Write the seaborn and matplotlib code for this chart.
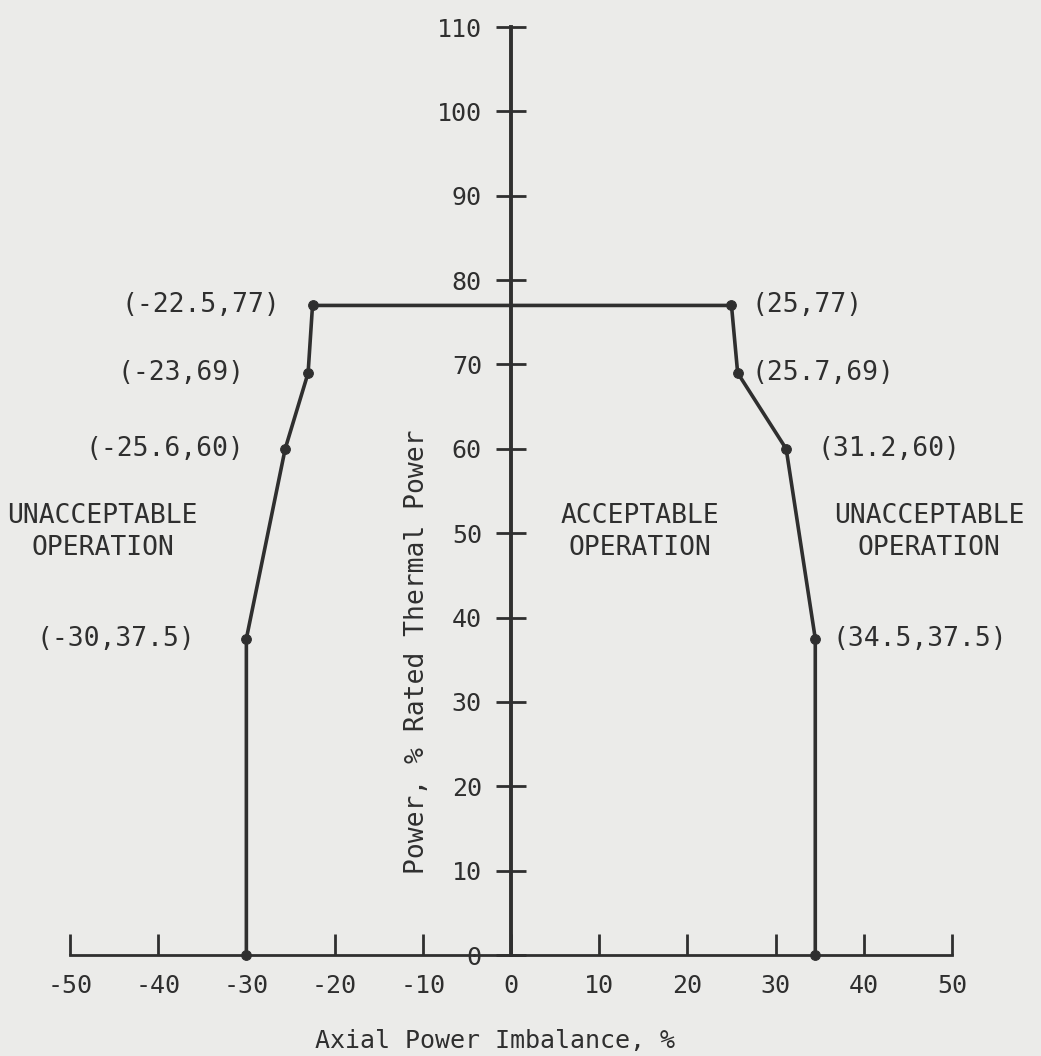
import matplotlib
matplotlib.use('Agg')
import matplotlib.pyplot as plt
import seaborn as sns
import pandas as pd

# Envelope of the operating limit (axial power imbalance vs power)
imbalance = [-30, -30, -25.6, -23, -22.5, 25, 25.7, 31.2, 34.5, 34.5]
power = [0, 37.5, 60, 69, 77, 77, 69, 60, 37.5, 0]
point_labels = ['', '(-30,37.5)', '(-25.6,60)', '(-23,69)', '(-22.5,77)',
                '(25,77)', '(25.7,69)', '(31.2,60)', '(34.5,37.5)', '']

region_labels = ['UNACCEPTABLE\nOPERATION', 'ACCEPTABLE\nOPERATION', 'UNACCEPTABLE\nOPERATION']

x_ticks = [-50, -40, -30, -20, -10, 0, 10, 20, 30, 40, 50]
y_ticks = [0, 10, 20, 30, 40, 50, 60, 70, 80, 90, 100, 110]

df = pd.DataFrame({'imbalance': imbalance, 'power': power, 'label': point_labels})

bg = '#ebebe9'
ink = '#2f2f2f'

sns.set_style('white')
plt.rcParams['font.family'] = ['DejaVu Sans Mono', 'DejaVu Sans']
plt.rcParams['axes.unicode_minus'] = False

fig = plt.figure(figsize=(10.41, 10.56), dpi=100, facecolor=bg)
ax = fig.add_axes([0.0672, 0.0956, 0.8473, 0.8788])
ax.set_facecolor(bg)

sns.lineplot(data=df, x='imbalance', y='power', sort=False, estimator=None,
             color=ink, linewidth=2.6, marker='o', markersize=7,
             markeredgecolor=ink, ax=ax, clip_on=False)

ax.set_xlim(-50, 50)
ax.set_ylim(0, 110)

# axes drawn through the origin
for side in ['top', 'right']:
    ax.spines[side].set_visible(False)
ax.spines['left'].set_position(('data', 0))
ax.spines['left'].set_color(ink)
ax.spines['left'].set_linewidth(2.8)
ax.spines['bottom'].set_color(ink)
ax.spines['bottom'].set_linewidth(2.0)

ax.set_xticks(x_ticks)
ax.set_yticks(y_ticks)
ax.tick_params(axis='x', bottom=True, direction='in', length=15, width=2,
               color=ink, labelsize=18, labelcolor=ink, pad=14)
ax.tick_params(axis='y', left=True, direction='inout', length=22, width=2,
               color=ink, labelsize=18, labelcolor=ink, pad=10)

ax.set_xlabel('Axial Power Imbalance, %', fontsize=18, color=ink)
ax.xaxis.set_label_coords(0.482, -0.08)
ax.set_ylabel('')
ax.text(-10.6, 36, 'Power, % Rated Thermal Power', rotation=90, fontsize=19,
        color=ink, ha='center', va='center')

# point annotations (left side right-aligned, right side left-aligned)
label_x = {'(-30,37.5)': -35.8, '(-25.6,60)': -30.2, '(-23,69)': -30.2,
           '(-22.5,77)': -26.2, '(25,77)': 27.3, '(25.7,69)': 27.3,
           '(31.2,60)': 34.7, '(34.5,37.5)': 36.5}
for _, row in df.iterrows():
    if not row['label']:
        continue
    ha = 'right' if row['imbalance'] < 0 else 'left'
    ax.text(label_x[row['label']], row['power'], row['label'], fontsize=19,
            color=ink, ha=ha, va='center')

region_x = [-46.3, 14.6, 47.4]
for xr, txt in zip(region_x, region_labels):
    ax.text(xr, 50.2, txt, fontsize=19, color=ink, ha='center', va='center',
            linespacing=1.3)

fig.savefig('out.png', dpi=100, facecolor=bg)
